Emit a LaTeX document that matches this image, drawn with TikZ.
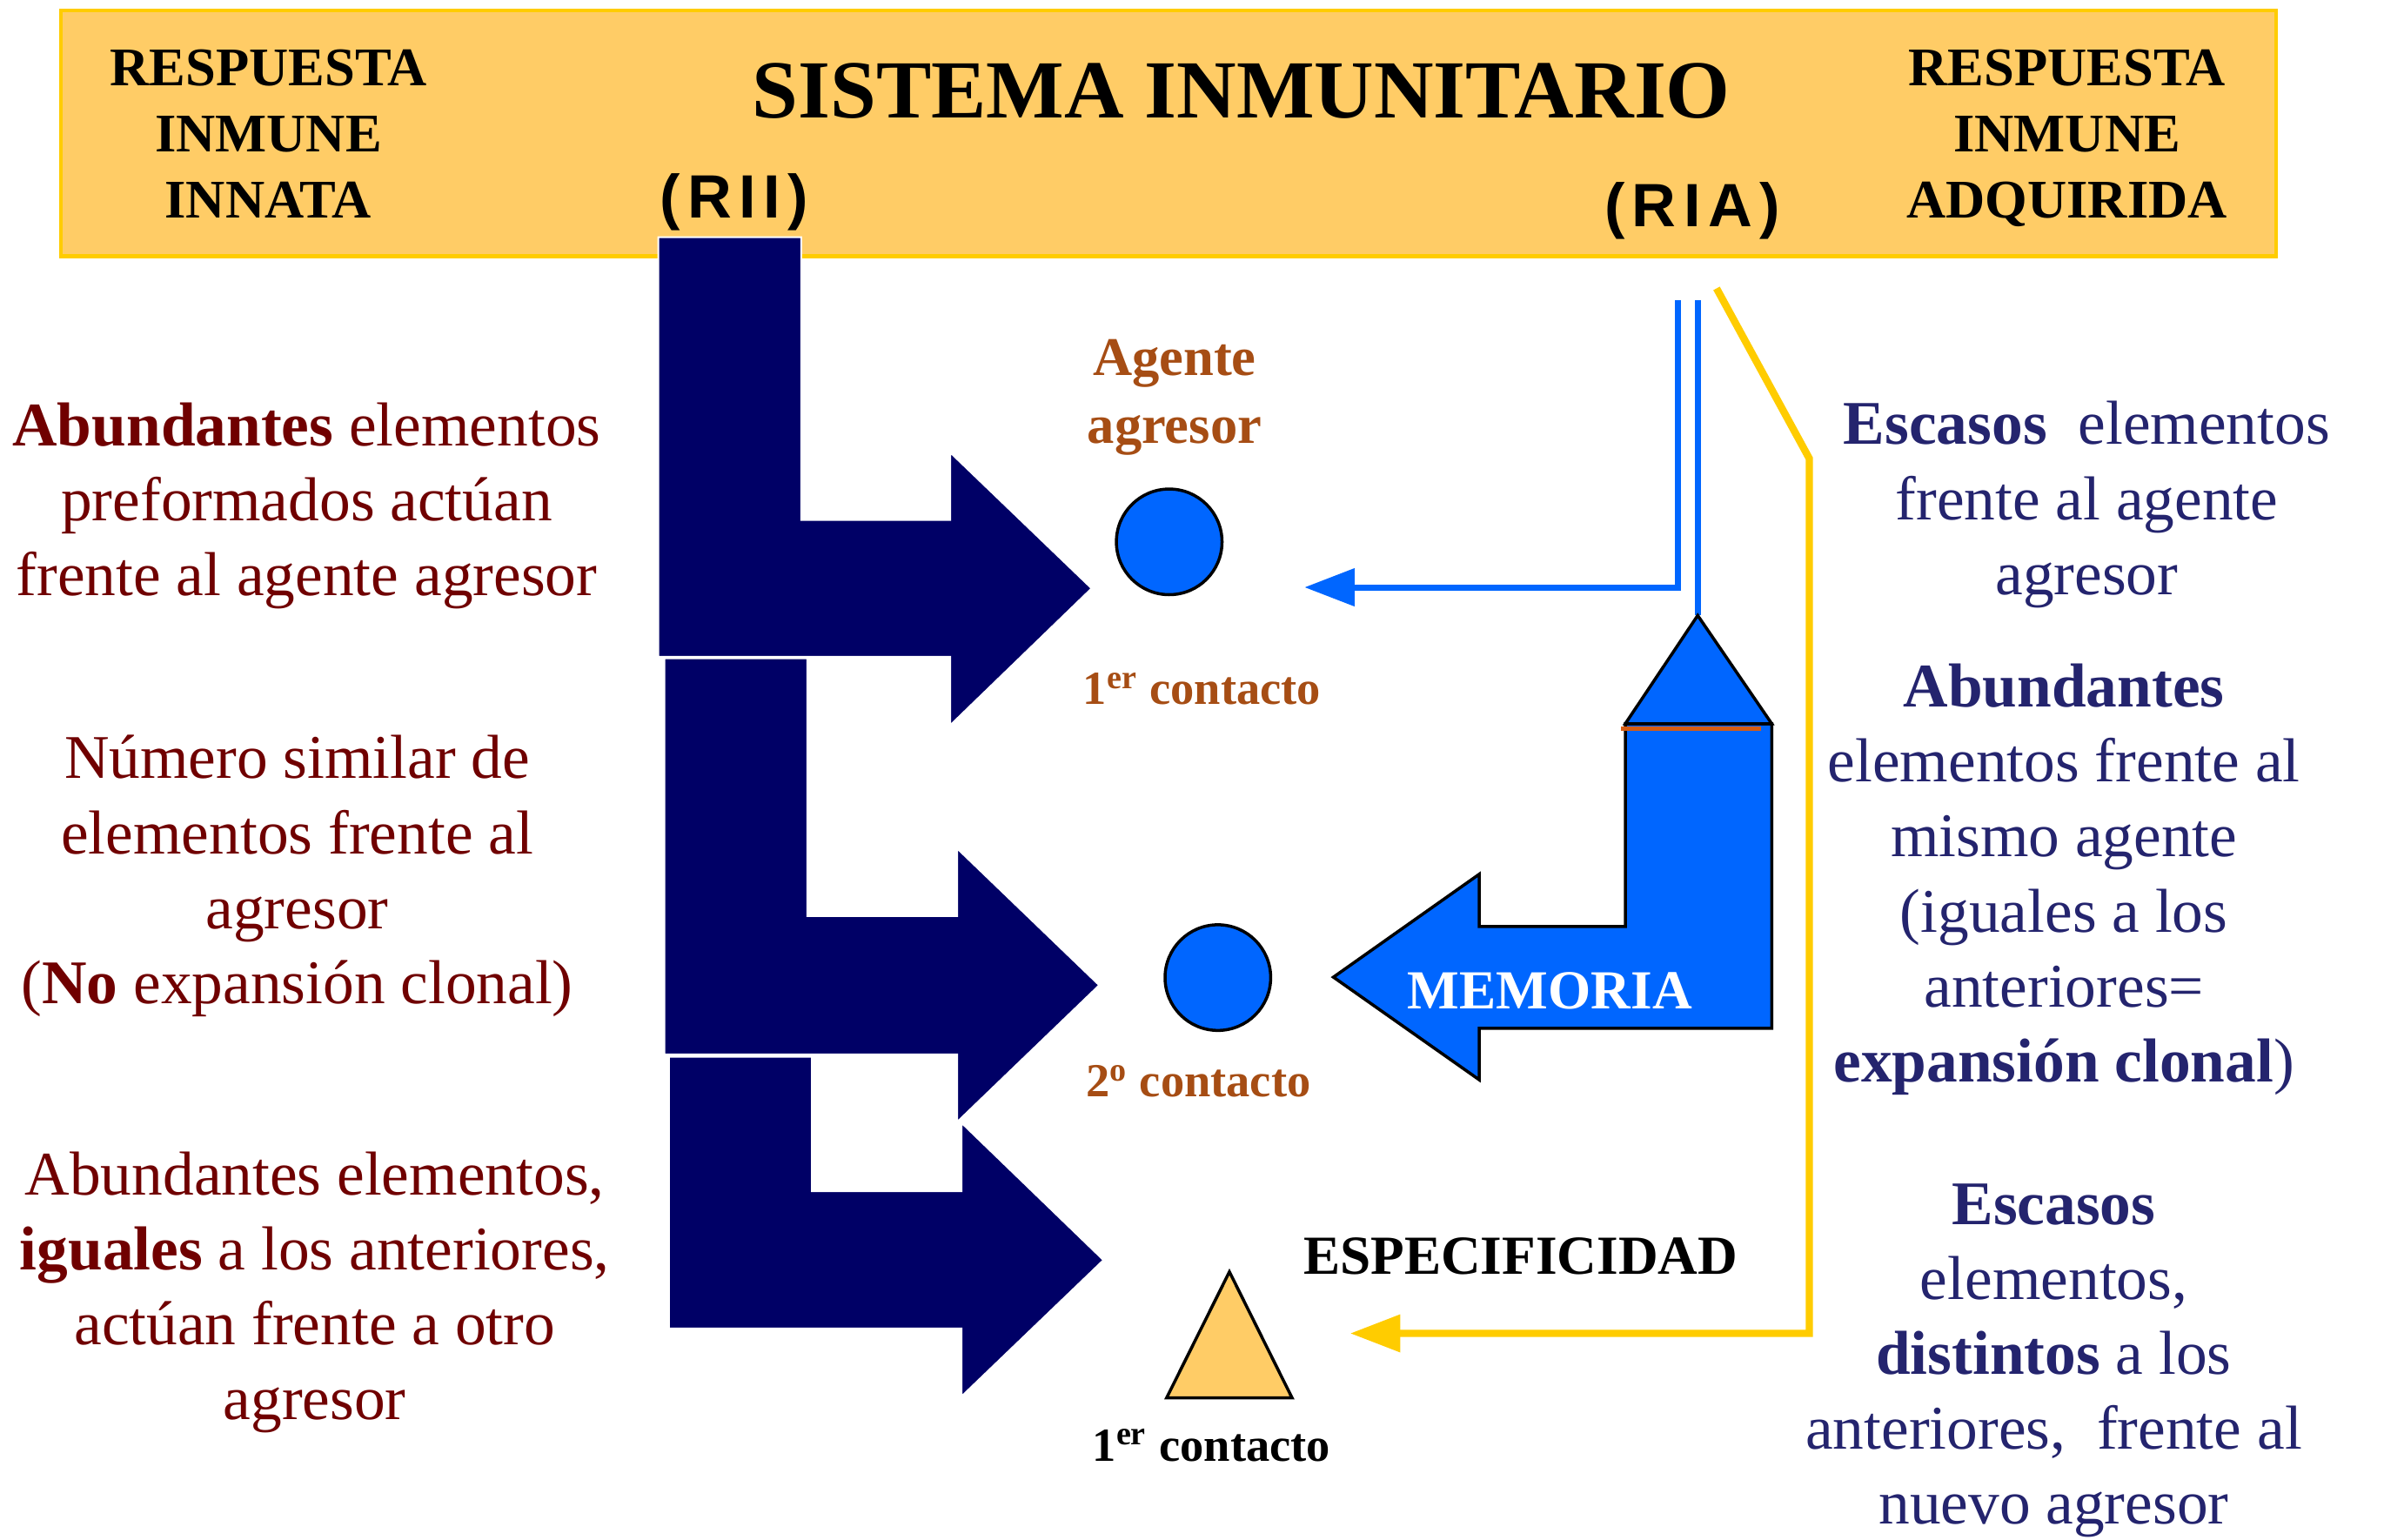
\documentclass[tikz,border=0pt]{standalone}
\usepackage{fontspec}
\setmainfont{Liberation Serif}
\newfontfamily\riafont[LetterSpace=12]{Liberation Sans}
\definecolor{navyarrow}{RGB}{0,0,102}
\definecolor{agentblue}{RGB}{0,102,255}
\definecolor{bandfill}{RGB}{255,204,102}
\definecolor{gold}{RGB}{255,204,0}
\definecolor{maroontxt}{RGB}{112,0,0}
\definecolor{navytxt}{RGB}{36,36,110}
\definecolor{brownlbl}{RGB}{166,77,20}
\definecolor{redline}{RGB}{214,92,20}
\usetikzlibrary{arrows.meta}

\begin{document}
\begin{tikzpicture}[x=0.017474cm,y=-0.017474cm,
  hdr/.style={inner sep=0pt,anchor=base,align=center,
              font=\fontsize{17.8}{21.6}\selectfont\bfseries},
  lefttxt/.style={inner sep=0pt,anchor=base,align=center,text=maroontxt,
              font=\fontsize{20.3}{24.5}\selectfont},
  righttxt/.style={lefttxt,text=navytxt},
  lbl/.style={inner sep=0pt,anchor=base,align=center,text=brownlbl,
              font=\fontsize{17.8}{22.1}\selectfont\bfseries},
  contacto/.style={lbl,font=\fontsize{15.5}{19}\selectfont\bfseries},
  bigarrow/.style={fill=navyarrow,draw=white,line width=0.6pt},
  agent/.style={circle,draw=black,line width=1pt,fill=agentblue,
              minimum size=1.214cm,inner sep=0pt},
  bluecon/.style={draw=agentblue,line width=2pt,
              -{Triangle[length=16.4pt,width=12pt]}},
  yelcon/.style={draw=gold,line width=2.4pt,
              -{Triangle[length=16.4pt,width=11.8pt]}}]
  \useasboundingbox (0,0) rectangle (1568,1012.4);

  % header band
  \draw[fill=bandfill,draw=gold,line width=1.2pt] (40,7) rectangle (1497,168.5);

  % innate response arrows
  \path[bigarrow] (433,156) -- (527,156) -- (527,342) -- (625,342) -- (625,297.6)
    -- (718,387) -- (625,477) -- (625,432) -- (433,432) -- cycle;
  \path[bigarrow] (437,433) -- (531,433) -- (531,602.5) -- (629.5,602.5) -- (629.5,558)
    -- (723,648) -- (629.5,738) -- (629.5,693.6) -- (437,693.6) -- cycle;
  \path[bigarrow] (440,695) -- (534,695) -- (534,783.5) -- (632.4,783.5) -- (632.4,738.5)
    -- (725.8,828.8) -- (632.4,918.5) -- (632.4,873.8) -- (440,873.8) -- cycle;

  % agents
  \node[agent] (ag1) at (769,356.4) {};
  \node[agent] (ag2) at (801,643) {};
  \draw[fill=bandfill,line width=1pt] (808.6,836.5) -- (767.3,919.4) -- (849.8,919.4) -- cycle;

  % adquired response connectors
  \coordinate (riaL) at (1103.4,197.7);
  \coordinate (riaR) at (1116.6,197.7);
  \coordinate (yelTop) at (1129,189.7);
  \coordinate (yelBend) at (1190,301.6);
  \coordinate (blueEnd) at (858,386.3);
  \coordinate (yelEnd) at (888,877);
  \coordinate (memApex) at (1116.6,404.8);
  \draw[bluecon] (riaL) |- (blueEnd);
  \draw[draw=agentblue,line width=2pt] (riaR) -- (memApex);
  \draw[yelcon] (yelTop) -- (yelBend) |- (yelEnd);

  % memory arrow
  \draw[fill=agentblue,line width=1pt] (1069,476) -- (1165.3,476) -- (1165.3,676.3)
    -- (972.9,676.3) -- (972.9,710.2) -- (877,642.7) -- (972.9,575) -- (972.9,609.4)
    -- (1069,609.4) -- cycle;
  \draw[fill=agentblue,line width=1pt] (1069,476) -- (memApex) -- (1165.3,476) -- cycle;
  \draw[redline,line width=1.6pt] (1066,479.3) -- (1158,479.3);

  % header texts (base = last line)
  \node[hdr] (rii) at (176.5,143.5) {RESPUESTA\\INMUNE\\INNATA};
  \node[hdr] (ria) at (1359.5,143.5) {RESPUESTA\\INMUNE\\ADQUIRIDA};
  \node[inner sep=0pt,anchor=base,font=\fontsize{27}{32}\selectfont\bfseries] (title)
    at (816.5,77.3) {SISTEMA INMUNITARIO};
  \node[inner sep=0pt,anchor=base,font=\riafont\bfseries\fontsize{20}{24}\selectfont] (riiTag)
    at (483,143.5) {(RII)};
  \node[inner sep=0pt,anchor=base,font=\riafont\bfseries\fontsize{20}{24}\selectfont] (riaTag)
    at (1113,148.8) {(RIA)};

  % left texts
  \node[lefttxt] (l1) at (201.7,392) {\textbf{Abundantes} elementos\\preformados actúan\\frente al agente agresor};
  \node[lefttxt] (l2) at (195.5,660) {Número similar de\\elementos frente al\\agresor\\(\textbf{No} expansión clonal)};
  \node[lefttxt] (l3) at (207,933.8) {Abundantes elementos,\\\textbf{iguales} a los anteriores,\\actúan frente a otro\\agresor};

  % right texts
  \node[righttxt] (r1) at (1372.5,391) {\textbf{Escasos}~ elementos\\frente al agente\\agresor};
  \node[righttxt] (r2) at (1357.5,711.5) {\textbf{Abundantes}\\elementos frente al\\mismo agente\\(iguales a los\\anteriores=\\\textbf{expansión clonal})};
  \node[righttxt] (r3) at (1350.8,1002.5) {\textbf{Escasos}\\elementos,\\\textbf{distintos} a los\\anteriores,~ frente al\\nuevo agresor};

  % labels
  \node[lbl] (agLbl) at (772.5,291.6) {Agente\\agresor};
  \node[contacto] (c1) at (790.6,463.3) {1\textsuperscript{er} contacto};
  \node[contacto] (c2) at (788.2,721.6) {2\textsuperscript{o} contacto};
  \node[contacto,text=black] (c3) at (796.8,961) {1\textsuperscript{er} contacto};
  \node[lbl,text=black,font=\fontsize{18}{22}\selectfont\bfseries] (esp) at (1000.1,837.8) {ESPECIFICIDAD};
  \node[lbl,text=white,font=\fontsize{18}{22}\selectfont\bfseries] (mem) at (1019.4,663.5) {MEMORIA};
\end{tikzpicture}
\end{document}
